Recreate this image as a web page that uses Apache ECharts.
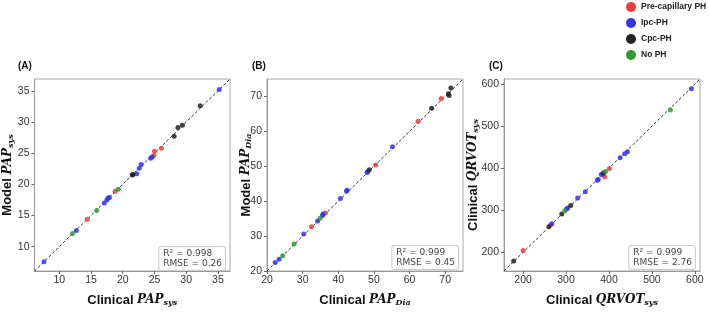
<!DOCTYPE html>
<html>
<head>
<meta charset="utf-8">
<script src="https://cdn.jsdelivr.net/npm/echarts@6/dist/echarts.min.js"></script>
<style>
html,body{margin:0;padding:0;background:#fff}
#main{width:709px;height:312px}
</style>
</head>
<body>
<div id="main"></div>
<script>
var groups = ['Pre-capillary PH', 'Ipc-PH', 'Cpc-PH', 'No PH'];
var colors = ['#ee3b3b', '#3434ee', '#222222', '#2e9b2e'];

// (A) PAP sys : [clinical, model]
var sysPre = [[14.4,14.4],[18.8,18.9],[24.9,24.6],[25.0,25.3],[26.1,25.8]];
var sysIpc = [[7.6,7.6],[12.7,12.6],[17.1,17.0],[17.5,17.5],[17.7,17.8],[17.9,17.9],[22.2,21.7],[22.6,22.6],[22.9,23.2],[24.4,24.2],[24.6,24.4],[35.2,35.2]];
var sysCpc = [[21.5,21.5],[21.6,21.6],[28.1,27.7],[28.7,29.1],[29.4,29.5],[32.2,32.6]];
var sysNo = [[12.1,12.1],[15.9,15.8],[19.3,19.2]];

// (B) PAP dia
var diaPre = [[32.5,32.7],[36.4,36.6],[50.5,50.4],[62.4,62.9],[68.9,69.4]];
var diaIpc = [[22.3,22.4],[23.4,23.4],[30.3,30.6],[34.2,34.3],[35.6,35.9],[35.7,36.3],[40.6,40.8],[42.3,42.9],[42.5,43.1],[48.1,48.2],[48.3,48.5],[55.2,55.6]];
var diaCpc = [[48.7,49.0],[66.2,66.6],[70.9,70.8],[71.1,70.3],[71.6,72.4]];
var diaNo = [[24.4,24.4],[27.6,27.7],[34.9,35.1]];

// (C) QRVOT sys
var qrPre = [[200,204],[264,265],[390,379],[401,399]];
var qrIpc = [[267,268],[301,303],[304,305],[327,329],[345,344],[373,371],[375,373],[382,385],[385,386],[426,425],[437,434],[443,439],[592,589]];
var qrCpc = [[178,179],[260,261],[290,291],[311,311],[388,389]];
var qrNo = [[297,299],[392,392],[543,538]];

var rangeA = [6.1, 36.9];
var rangeB = [20, 75];
var rangeC = [155.5, 612];

var statsA = ['R² = 0.998', 'RMSE = 0.26'];
var statsB = ['R² = 0.999', 'RMSE = 0.45'];
var statsC = ['R² = 0.999', 'RMSE = 2.76'];

var nameRich = {
  b: {fontFamily: 'Liberation Sans', fontWeight: 'bold', fontSize: 13, color: '#111'},
  i: {fontFamily: 'DejaVu Serif', fontStyle: 'italic', fontWeight: 'bold', fontSize: 12, color: '#111'},
  s: {fontFamily: 'DejaVu Serif', fontStyle: 'italic', fontWeight: 'bold', fontSize: 8, color: '#111', padding: [6, 0, 0, 0]}
};

var panels = [
  {left: 33, top: 79, size: 197, range: rangeA, data: [sysPre, sysIpc, sysCpc, sysNo], yGap: 20,
   xName: '{b|Clinical }{i|PAP}{s|sys}', yName: '{b|Model }{i|PAP}{s|sys}', label: '(A)', stats: statsA, hideMin: true},
  {left: 267, top: 79, size: 196, range: rangeB, data: [diaPre, diaIpc, diaCpc, diaNo], yGap: 14,
   xName: '{b|Clinical }{i|PAP}{s|Dia}', yName: '{b|Model }{i|PAP}{s|Dia}', label: '(B)', stats: statsB, hideMin: false},
  {left: 504, top: 79, size: 196, range: rangeC, data: [qrPre, qrIpc, qrCpc, qrNo], yGap: 24,
   xName: '{b|Clinical }{i|QRVOT}{s|sys}', yName: '{b|Clinical }{i|QRVOT}{s|sys}', label: '(C)', stats: statsC, hideMin: true}
];

var grids = [], xAxes = [], yAxes = [], series = [], graphics = [];

function axis(p, i, isX) {
  return {
    type: 'value', gridIndex: i, min: p.range[0], max: p.range[1],
    splitLine: {show: false},
    axisLine: {show: true, onZero: false, lineStyle: {color: '#999'}},
    axisTick: {show: true, length: 3, lineStyle: {color: '#666'}},
    axisLabel: {color: '#333', fontSize: 10.5, fontFamily: 'Liberation Sans', margin: isX ? 4 : 5,
      showMinLabel: !p.hideMin, showMaxLabel: false},
    name: isX ? p.xName : p.yName,
    nameLocation: 'middle',
    nameGap: isX ? 22 : p.yGap,
    nameMoveOverlap: false,
    nameRotate: isX ? 0 : 90,
    nameTextStyle: {rich: nameRich}
  };
}

panels.forEach(function (p, i) {
  grids.push({left: p.left, top: p.top, width: p.size, height: p.size,
    show: true, borderColor: '#aaa', borderWidth: 1, backgroundColor: '#fff'});
  xAxes.push(axis(p, i, true));
  yAxes.push(axis(p, i, false));
  series.push({
    type: 'line', xAxisIndex: i, yAxisIndex: i, silent: true, symbol: 'none',
    data: [[p.range[0], p.range[0]], [p.range[1], p.range[1]]],
    lineStyle: {color: '#333', width: 1, type: [3, 2]}, z: 1
  });
  p.data.forEach(function (d, g) {
    series.push({
      name: groups[g], type: 'scatter', xAxisIndex: i, yAxisIndex: i,
      data: d, symbolSize: 5,
      itemStyle: {color: colors[g], opacity: 0.85}, z: 3
    });
  });
  graphics.push({
    type: 'text', left: p.left - 15, top: p.top - 18,
    style: {text: p.label, font: 'bold 10px Liberation Sans', fill: '#111'}
  });
  graphics.push({
    type: 'text', right: 709 - (p.left + p.size) + 4, bottom: 312 - (p.top + p.size) + 5,
    style: {
      text: p.stats.join('\n'), font: '9px DejaVu Sans', fill: '#444', align: 'right',
      lineHeight: 10, backgroundColor: 'rgba(255,255,255,0.9)', borderColor: '#ccc',
      borderWidth: 1, borderRadius: 2, padding: [2, 3, 1, 4]
    }
  });
});

var chart = echarts.init(document.getElementById('main'));
chart.setOption({
  animation: false,
  backgroundColor: '#fff',
  legend: {
    data: groups, orient: 'vertical', left: 626, top: 2, padding: 0,
    icon: 'circle', itemWidth: 10, itemHeight: 10, itemGap: 6,
    itemStyle: {opacity: 1},
    textStyle: {fontFamily: 'Liberation Sans', fontWeight: 'bold', fontSize: 8.5, color: '#222'}
  },
  grid: grids, xAxis: xAxes, yAxis: yAxes, series: series, graphic: graphics
});
</script>
</body>
</html>
